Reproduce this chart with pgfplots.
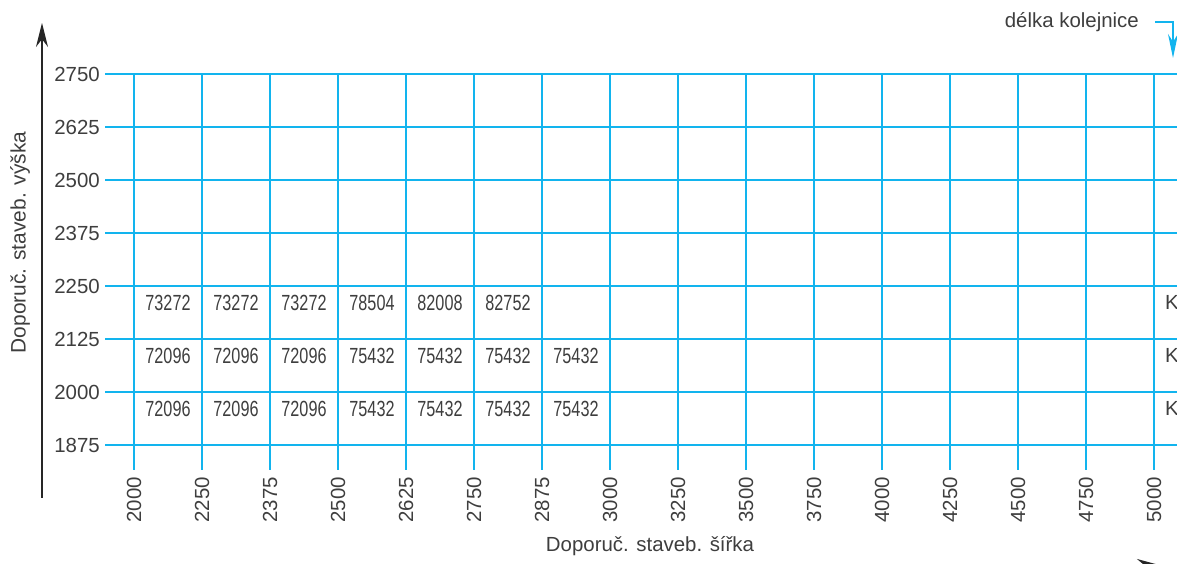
\documentclass[border=0pt]{standalone}
\usepackage{fontspec}
\setmainfont{Liberation Sans}
\newfontfamily\cond[FakeStretch=0.74]{Liberation Sans}
\usepackage{pgfplots}
\usepackage{pgfplotstable}
\pgfplotsset{compat=1.18}
\usetikzlibrary{arrows.meta}
\definecolor{gridcyan}{RGB}{18,180,238}
\definecolor{txt}{RGB}{62,62,62}
\pgfplotstableread{
x y lab
0.5 2.68 73272
1.5 2.68 73272
2.5 2.68 73272
3.5 2.68 78504
4.5 2.68 82008
5.5 2.68 82752
0.5 1.68 72096
1.5 1.68 72096
2.5 1.68 72096
3.5 1.68 75432
4.5 1.68 75432
5.5 1.68 75432
6.5 1.68 75432
0.5 0.68 72096
1.5 0.68 72096
2.5 0.68 72096
3.5 0.68 75432
4.5 0.68 75432
5.5 0.68 75432
6.5 0.68 75432
}\cells
\begin{document}
\begin{tikzpicture}[x=1bp,y=1bp]
\begin{axis}[
  at={(105bp,94bp)}, anchor=south west,
  scale only axis, width=1083bp, height=396bp,
  xmin=-0.4265, xmax=15.5, ymin=-0.4717, ymax=7,
  clip=false,
  axis line style={draw=none},
  major tick length=0pt,
  grid=major,
  major grid style={draw=gridcyan, line width=1.6bp},
  xtick={0,...,15},
  xticklabels={2000,2250,2375,2500,2625,2750,2875,3000,3250,3500,3750,4000,4250,4500,4750,5000},
  ytick={0,...,7},
  yticklabels={1875,2000,2125,2250,2375,2500,2625,2750},
  ticklabel style={font=\fontsize{20.5}{24}\selectfont, text=txt, inner sep=0pt},
  xticklabel style={rotate=90, anchor=east},
  yticklabel style={anchor=east},
  xticklabel shift=7bp,
  yticklabel shift=5bp,
]
\addplot[draw=none, mark=none, nodes near coords, point meta=explicit symbolic,
  nodes near coords style={anchor=center, inner sep=0pt, font=\cond\fontsize{22}{26}\selectfont, text=txt}]
  table[x=x, y=y, meta=lab] {\cells};
\node[anchor=west, inner sep=0pt, text=txt, font=\fontsize{20.5}{24}\selectfont] at (axis cs:15.16,2.68) {K};
\node[anchor=west, inner sep=0pt, text=txt, font=\fontsize{20.5}{24}\selectfont] at (axis cs:15.16,1.68) {K};
\node[anchor=west, inner sep=0pt, text=txt, font=\fontsize{20.5}{24}\selectfont] at (axis cs:15.16,0.68) {K};
\end{axis}
% axis labels and arrows (picture coordinates, origin bottom-left, 1bp = 1px)
\node[text=txt, font=\fontsize{21}{24}\selectfont, rotate=90] at (20,321.5) {Doporuč. staveb. výška};
\node[text=txt, font=\fontsize{20.5}{24}\selectfont] at (650,18) {Doporuč. staveb. šířka};
\draw[line width=1.5bp, draw=black!85, -{Stealth[length=24bp, width=12bp]}] (42,66) -- (42,541);
\draw[line width=1.5bp, draw=black!85, -{Stealth[length=24bp, width=13bp]}] (1110,-1.5) -- (1161,-1.5);
\node[anchor=east, inner sep=0pt, text=txt, font=\fontsize{20.5}{24}\selectfont] at (1139,542) {délka kolejnice};
\draw[line width=1.4bp, draw=gridcyan, -{Stealth[length=24bp, width=10bp]}] (1155,542) -- (1173,542) -- (1173,506);
\pgfresetboundingbox
\useasboundingbox (0,0) rectangle (1177,564);
\end{tikzpicture}
\end{document}
